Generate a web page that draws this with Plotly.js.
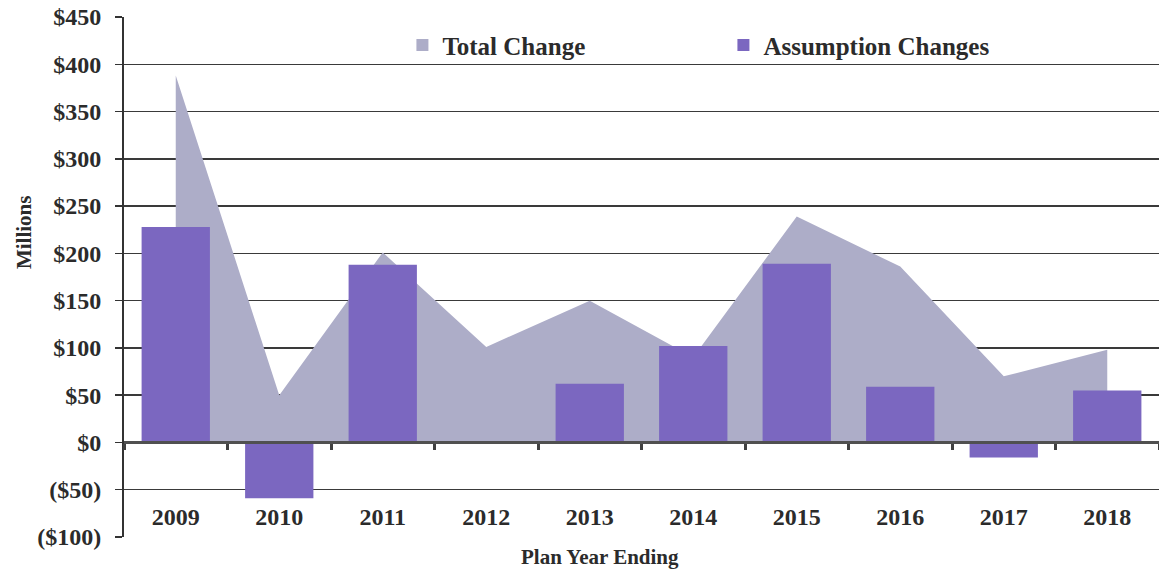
<!DOCTYPE html>
<html>
<head>
<meta charset="utf-8">
<script src="https://cdn.plot.ly/plotly-3.0.1.min.js"></script>
<style>
  body { margin: 0; background: #fff; }
  #canvas_div { width: 1159px; height: 570px; }
</style>
</head>
<body>
<div id="canvas_div"></div>
<script>
// Plan years on the category axis
var years = ["2009", "2010", "2011", "2012", "2013", "2014", "2015", "2016", "2017", "2018"];

// Values in millions
var totalChange = [388, 50, 201, 101, 150, 90, 239, 186, 70, 98];
var assumptionChanges = [228, -59, 188, 0, 62, 102, 189, 59, -16, 55];

// y axis ticks
var yTickVals = [-100, -50, 0, 50, 100, 150, 200, 250, 300, 350, 400, 450];
var yTickText = ["($100)", "($50)", "$0", "$50", "$100", "$150", "$200", "$250", "$300", "$350", "$400", "$450"];

var yRange = [-100, 450];
var xRange = [-0.5, years.length - 0.5];

var serif = "Liberation Serif, Times New Roman, serif";
var inkColor = "#2b2b2b";
var areaColor = "#adadc8";
var barColor = "#7b67c0";

// area sits on the main subplot, bars on an overlay so they draw on top
var area = {
  x: years,
  y: totalChange,
  type: "scatter",
  mode: "none",
  fill: "tozeroy",
  fillcolor: areaColor,
  name: "Total Change",
  showlegend: false,
  hoverinfo: "x+y",
};

// legend-only entry (no value) so the area gets a square key like the original
var areaKey = {
  x: [years[0]],
  y: [null],
  type: "bar",
  marker: { color: areaColor },
  name: "Total Change",
  xaxis: "x2",
  yaxis: "y2",
  hoverinfo: "skip",
};

var bars = {
  x: years,
  y: assumptionChanges,
  type: "bar",
  marker: { color: barColor },
  name: "Assumption Changes",
  xaxis: "x2",
  yaxis: "y2",
  hoverinfo: "x+y",
};

var zeroPos = (0 - yRange[0]) / (yRange[1] - yRange[0]);

var layout = {
  width: 1159,
  height: 570,
  margin: { l: 124, r: 0, t: 17, b: 33 },
  paper_bgcolor: "#ffffff",
  plot_bgcolor: "#ffffff",
  font: { family: serif, color: inkColor, weight: "bold" },
  barmode: "overlay",
  bargap: 0.34,
  showlegend: true,
  legend: {
    orientation: "h",
    x: 0.269,
    xanchor: "left",
    y: 0.99,
    yanchor: "top",
    entrywidth: 276,
    entrywidthmode: "pixels",
    bgcolor: "rgba(0,0,0,0)",
    font: { family: serif, size: 25, color: inkColor, weight: "bold" },
    traceorder: "normal",
  },
  xaxis: {
    type: "category",
    range: xRange,
    anchor: "free",
    position: zeroPos,
    showline: true,
    linecolor: "#505050",
    linewidth: 3,
    ticks: "outside",
    tickson: "boundaries",
    ticklen: 6,
    tickwidth: 3,
    tickcolor: "#404040",
    ticklabelstandoff: 52,
    showgrid: false,
    layer: "above traces",
    tickfont: { family: serif, size: 24, color: inkColor, weight: "bold" },
  },
  yaxis: {
    range: yRange,
    tickvals: yTickVals,
    ticktext: yTickText,
    showline: true,
    linecolor: "#333333",
    linewidth: 2,
    ticks: "outside",
    ticklen: 7,
    tickcolor: "#333333",
    tickwidth: 1.5,
    ticklabelstandoff: 9,
    showgrid: true,
    gridcolor: "#3a3a3a",
    gridwidth: 1.5,
    zeroline: false,
    tickfont: { family: serif, size: 24, color: inkColor, weight: "bold" },
  },
  xaxis2: {
    type: "category",
    overlaying: "x",
    matches: "x",
    range: xRange,
    visible: false,
  },
  yaxis2: {
    overlaying: "y",
    matches: "y",
    range: yRange,
    visible: false,
  },
  annotations: [
    {
      text: "Millions",
      xref: "paper",
      yref: "paper",
      x: -0.0966,
      y: 0.5865,
      xanchor: "center",
      yanchor: "middle",
      textangle: -90,
      showarrow: false,
      font: { family: serif, size: 21, color: inkColor, weight: "bold" },
    },
    {
      text: "Plan Year Ending",
      xref: "paper",
      yref: "paper",
      x: 0.46,
      y: -0.038,
      xanchor: "center",
      yanchor: "middle",
      showarrow: false,
      font: { family: serif, size: 21, color: inkColor, weight: "bold" },
    },
  ],
};

Plotly.newPlot("canvas_div", [area, areaKey, bars], layout, { displayModeBar: false, staticPlot: true });
</script>
</body>
</html>
